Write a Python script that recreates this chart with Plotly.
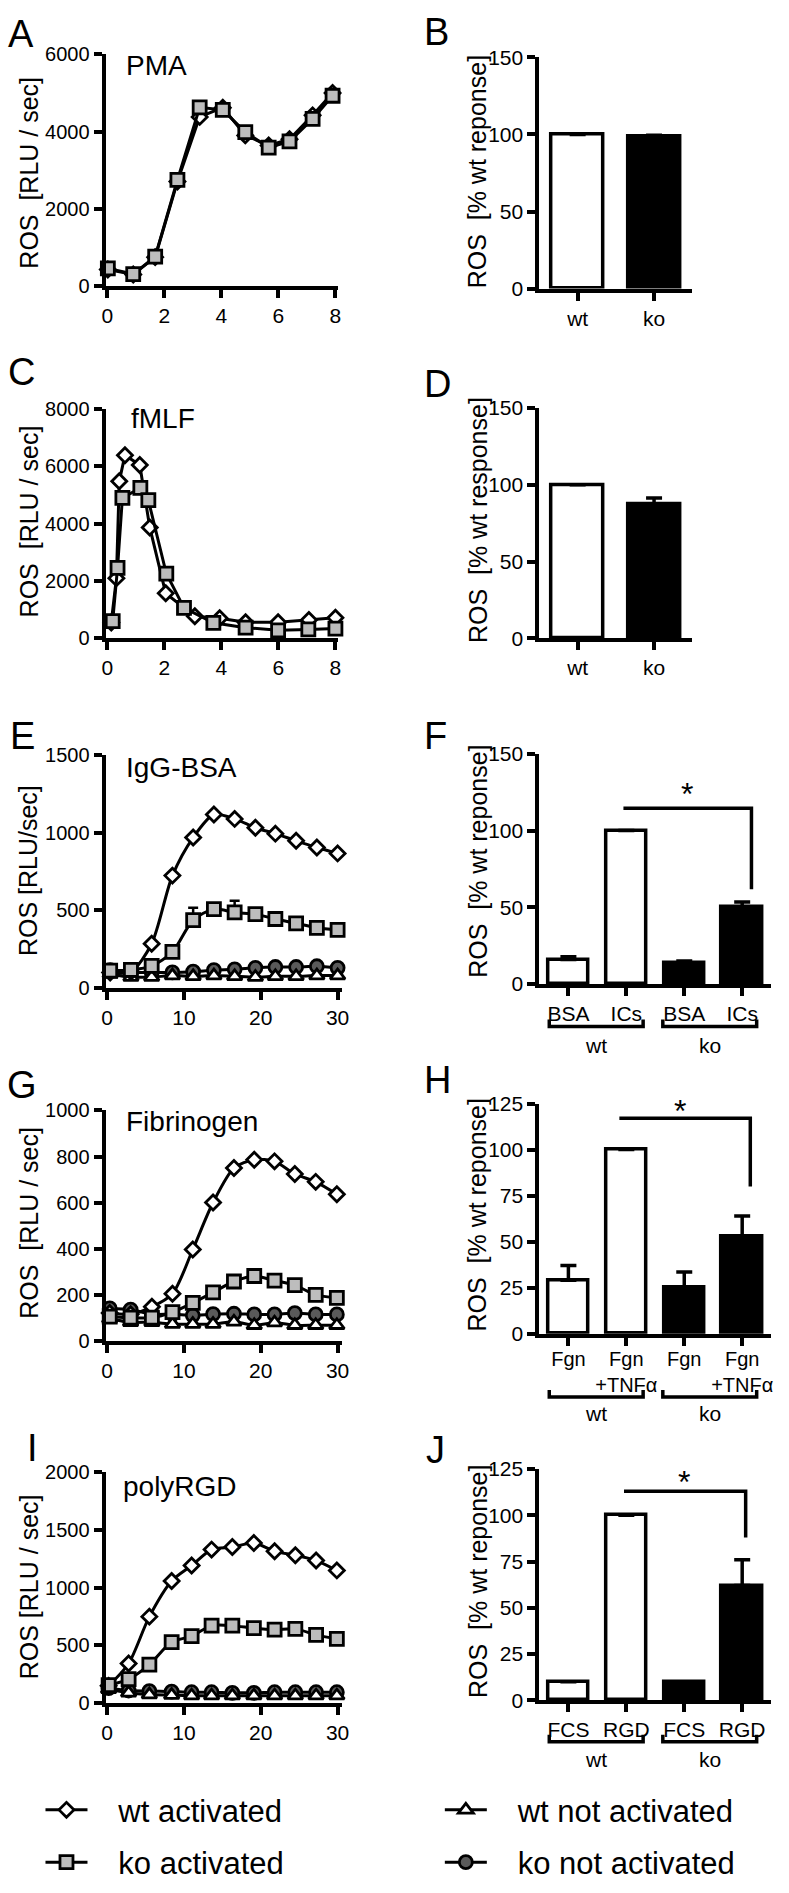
import plotly.graph_objects as go

W, H = 789, 1893
def fx(p): return p / W
def fy(p): return 1 - p / H

# ---------------- data ----------------
# A: PMA (time in min)
pma_time = [0.02, 0.91, 1.68, 2.46, 3.24, 4.05, 4.84, 5.66, 6.39, 7.2, 7.9]
pma_wt = [420, 290, 740, 2700, 4380, 4620, 3900, 3640, 3800, 4420, 5000]
pma_ko = [446, 300, 754, 2743, 4629, 4560, 3986, 3583, 3746, 4329, 4929]

# C: fMLF
fmlf_time_wt = [0.14, 0.32, 0.42, 0.62, 1.14, 1.49, 2.05, 3.07, 3.94, 4.85, 5.99, 7.07, 8.0]
fmlf_wt = [550, 2100, 5480, 6390, 6050, 3870, 1570, 770, 700, 560, 560, 640, 720]
fmlf_time_ko = [0.19, 0.36, 0.53, 1.16, 1.44, 2.07, 2.69, 3.72, 4.85, 5.99, 7.05, 8.0]
fmlf_ko = [600, 2460, 4900, 5250, 4820, 2260, 1060, 540, 370, 280, 310, 340]

# E: IgG-BSA
igg_time = [0.4, 3.1, 5.8, 8.5, 11.2, 13.9, 16.6, 19.3, 21.9, 24.6, 27.3, 30.0]
igg_wt_act = [100, 105, 285, 723, 968, 1116, 1088, 1031, 993, 947, 904, 866]
igg_ko_act = [112, 116, 142, 232, 437, 507, 486, 475, 444, 416, 387, 374]
igg_ko_act_err = [0, 0, 0, 0, 80, 0, 75, 0, 0, 0, 0, 0]
igg_wt_not = [90, 70, 70, 80, 75, 80, 75, 70, 75, 75, 80, 80]
igg_ko_not = [115, 100, 100, 100, 105, 115, 120, 130, 135, 135, 140, 130]

# G: Fibrinogen
fgn_time = [0.34, 3.06, 5.83, 8.51, 11.15, 13.79, 16.51, 19.15, 21.79, 24.43, 27.15, 29.9]
fgn_wt_act = [120, 115, 147, 204, 396, 600, 750, 786, 779, 724, 690, 636]
fgn_ko_act = [104, 100, 100, 124, 164, 210, 257, 281, 261, 241, 199, 186]
fgn_wt_not = [95, 80, 80, 72, 72, 72, 82, 67, 78, 67, 67, 67]
fgn_ko_not = [140, 135, 115, 115, 110, 115, 117, 114, 114, 120, 114, 114]

# I: polyRGD
rgd_time = [0.2, 2.8, 5.5, 8.4, 11.0, 13.6, 16.3, 19.1, 21.8, 24.5, 27.2, 29.9]
rgd_wt_act = [150, 343, 749, 1057, 1191, 1329, 1351, 1386, 1314, 1280, 1234, 1149]
rgd_ko_act = [157, 209, 334, 529, 580, 671, 671, 649, 637, 643, 591, 557]
rgd_wt_not = [120, 90, 75, 70, 65, 65, 65, 65, 65, 65, 65, 65]
rgd_ko_not = [130, 110, 105, 100, 95, 95, 90, 90, 95, 95, 95, 95]

# Bar panels
b_cats = ["wt", "ko"]
b_vals = [100, 98.5]
b_err = [0, 1.0]

d_cats = ["wt", "ko"]
d_vals = [100, 87.5]
d_err = [0, 4.0]

f_cats = ["BSA", "ICs", "BSA", "ICs"]
f_vals = [16, 100, 13.5, 50]
f_err = [1.8, 0, 1.5, 3.5]

h_cats = ["Fgn", "Fgn<br>+TNFα", "Fgn", "Fgn<br>+TNFα"]
h_vals = [29, 100, 25, 53]
h_err = [8, 0, 8.5, 11]

j_cats = ["FCS", "RGD", "FCS", "RGD"]
j_vals = [10, 100, 10, 62]
j_err = [0, 0, 0, 14]

groups = ["wt", "ko"]
bar_colors = ["white", "white", "black", "black"]

# significance brackets: [x_start, x_end, y_line, y_drop, star_x, star_y]
f_sig = [0.95, 3.16, 114.5, 61.7, 2.05, 124]
h_sig = [0.88, 3.14, 117, 80, 1.92, 121]
j_sig = [0.96, 3.06, 113, 88, 1.99, 118]

# ---------------- styles ----------------
FONT = "Liberation Sans, Arial, Helvetica, sans-serif"
LW = 3
MLW = 2.8
st = {
    "wt_act": dict(symbol="diamond", size=11.5, color="white", line=dict(color="black", width=MLW)),
    "ko_act": dict(symbol="square", size=13, color="#bdbdbd", line=dict(color="black", width=MLW)),
    "wt_not": dict(symbol="triangle-up", size=13, color="white", line=dict(color="black", width=MLW)),
    "ko_not": dict(symbol="circle", size=13, color="#5a5a5a", line=dict(color="black", width=MLW)),
}
PAD = "\u00a0\u00a0\u00a0"
names = {"wt_act": PAD + "wt activated", "ko_act": PAD + "ko activated",
         "wt_not": PAD + "wt not activated", "ko_not": PAD + "ko not activated"}
legend_of = {"wt_act": "legend", "ko_act": "legend", "wt_not": "legend2", "ko_not": "legend2"}
rank_of = {"wt_act": 1, "ko_act": 2, "wt_not": 1, "ko_not": 2}

fig = go.Figure()
layout = {}
annotations = []
shapes = []

axis_style = dict(showline=True, linecolor="black", linewidth=4, ticks="outside",
                  ticklen=8, tickwidth=4, tickcolor="black", showgrid=False,
                  zeroline=False, fixedrange=True)

def add_axes(i, xdom, ydom, xrange, yrange, ydtick, xdtick=None, tickvals=None,
             ticktext=None, xfont=21, yfont=20, xstand=0):
    xs = "xaxis" if i == 1 else f"xaxis{i}"
    ys = "yaxis" if i == 1 else f"yaxis{i}"
    xa = dict(axis_style, domain=[fx(xdom[0]), fx(xdom[1])], range=xrange,
              anchor=("y" if i == 1 else f"y{i}"), ticklabelstandoff=xstand,
              tickfont=dict(size=xfont, color="black", family=FONT))
    if tickvals is not None:
        xa.update(tickmode="array", tickvals=tickvals, ticktext=ticktext)
    else:
        xa.update(tickmode="linear", tick0=0, dtick=xdtick)
    ya = dict(axis_style, domain=[fy(ydom[1]), fy(ydom[0])], range=yrange,
              anchor=("x" if i == 1 else f"x{i}"), tickmode="linear", tick0=0, dtick=ydtick,
              tickfont=dict(size=yfont, color="black", family=FONT))
    layout[xs] = xa
    layout[ys] = ya
    return ("x" if i == 1 else f"x{i}"), ("y" if i == 1 else f"y{i}")

def add_series(xr, yr, key, t, v, shape="linear", err=None, legend=False):
    tr = go.Scatter(x=t, y=v, mode="lines+markers", xaxis=xr, yaxis=yr,
                    line=dict(color="black", width=LW, shape=shape, smoothing=0.8),
                    marker=st[key], cliponaxis=False, name=names[key],
                    showlegend=legend, legend=legend_of[key], legendrank=rank_of[key],
                    legendgroup=key)
    if err is not None:
        tr.error_y = dict(type="data", symmetric=False, array=err, arrayminus=[0] * len(err),
                          color="black", thickness=2.5, width=5)
    fig.add_trace(tr)

def letter(text, x, y):
    annotations.append(dict(text=text, x=fx(x), y=fy(y), xref="paper", yref="paper",
                            showarrow=False, xanchor="center", yanchor="middle",
                            font=dict(size=38, family=FONT, color="black")))

def label(text, x, y, size=28, anchor="left"):
    annotations.append(dict(text=text, x=fx(x), y=fy(y), xref="paper", yref="paper",
                            showarrow=False, xanchor=anchor, yanchor="middle",
                            font=dict(size=size, family=FONT, color="black")))

def ytitle(text, x, y, size=25):
    annotations.append(dict(text=text, x=fx(x), y=fy(y), xref="paper", yref="paper",
                            showarrow=False, textangle=-90, xanchor="center", yanchor="middle",
                            font=dict(size=size, family=FONT, color="black")))

# ---------------- line panels ----------------
LX = [103, 339]
LX30 = [103, 343]

# A
xr, yr = add_axes(1, LX, [43, 277], [-0.06, 8.1], [0, 6000], 2000, xdtick=2)
add_series(xr, yr, "wt_act", pma_time, pma_wt)
add_series(xr, yr, "ko_act", pma_time, pma_ko)
letter("A", 17, 22); label("PMA", 122, 54); ytitle("ROS\u00a0 [RLU / sec]", 25, 163)

# C
xr, yr = add_axes(3, LX, [402, 634], [-0.06, 8.1], [0, 8000], 2000, xdtick=2)
add_series(xr, yr, "wt_act", fmlf_time_wt, fmlf_wt)
add_series(xr, yr, "ko_act", fmlf_time_ko, fmlf_ko)
letter("C", 18, 364); label("fMLF", 127, 412); ytitle("ROS\u00a0 [RLU / sec]", 25, 516)

# E
xr, yr = add_axes(5, LX30, [752, 988], [-0.2, 30.6], [0, 1500], 500, xdtick=10)
add_series(xr, yr, "ko_not", igg_time, igg_ko_not, "spline")
add_series(xr, yr, "wt_not", igg_time, igg_wt_not, "spline")
add_series(xr, yr, "wt_act", igg_time, igg_wt_act, "spline")
add_series(xr, yr, "ko_act", igg_time, igg_ko_act, "spline", err=igg_ko_act_err)
letter("E", 19, 733); label("IgG-BSA", 122, 765); ytitle("ROS [RLU/sec]", 25, 869)

# G
xr, yr = add_axes(7, LX30, [1112, 1345], [-0.2, 30.6], [0, 1000], 200, xdtick=10)
add_series(xr, yr, "ko_not", fgn_time, fgn_ko_not, "spline")
add_series(xr, yr, "wt_not", fgn_time, fgn_wt_not, "spline")
add_series(xr, yr, "wt_act", fgn_time, fgn_wt_act, "spline")
add_series(xr, yr, "ko_act", fgn_time, fgn_ko_act, "spline")
letter("G", 18, 1086); label("Fibrinogen", 122, 1123); ytitle("ROS\u00a0 [RLU / sec]", 25, 1226)

# I
xr, yr = add_axes(9, LX30, [1478, 1712], [-0.2, 30.6], [0, 2000], 500, xdtick=10)
add_series(xr, yr, "ko_not", rgd_time, rgd_ko_not, "spline", legend=True)
add_series(xr, yr, "wt_not", rgd_time, rgd_wt_not, "spline", legend=True)
add_series(xr, yr, "wt_act", rgd_time, rgd_wt_act, "spline", legend=True)
add_series(xr, yr, "ko_act", rgd_time, rgd_ko_act, "spline", legend=True)
letter("I", 29, 1454); label("polyRGD", 119, 1493); ytitle("ROS [RLU / sec]", 25, 1594)

# ---------------- bar panels ----------------
def add_bars(xr, yr, vals, err, colors, width):
    n = len(vals)
    fig.add_trace(go.Bar(x=list(range(n)), y=vals, width=width, xaxis=xr, yaxis=yr,
                         marker=dict(color=colors, line=dict(color="black", width=3.5)),
                         error_y=dict(type="data", symmetric=False, array=err,
                                      arrayminus=[0] * n, color="black", thickness=3.5, width=8),
                         showlegend=False, cliponaxis=False))

def add_sig(xr, yr, sig):
    x0, x1, yl, yd, sx, sy = sig
    shapes.append(dict(type="path", xref=xr, yref=yr,
                       path=f"M {x0},{yl} L {x1},{yl} L {x1},{yd}",
                       line=dict(color="black", width=3.5)))
    annotations.append(dict(text="*", x=sx, y=sy, xref=xr, yref=yr, showarrow=False,
                            xanchor="center", yanchor="middle",
                            font=dict(size=32, family=FONT, color="black")))

def add_groups(xr, y_line, y_lab):
    spans = [(-0.33, 1.29), (1.63, 3.25)]
    for (a, b), g in zip(spans, groups):
        shapes.append(dict(type="path", xref=xr, yref="paper",
                           path=f"M {a},{fy(y_line - 7)} L {a},{fy(y_line)} L {b},{fy(y_line)} L {b},{fy(y_line - 7)}",
                           line=dict(color="black", width=3.5)))
        annotations.append(dict(text=g, x=(a + b) / 2, y=fy(y_lab), xref=xr, yref="paper",
                                showarrow=False, xanchor="center", yanchor="middle",
                                font=dict(size=21, family=FONT, color="black")))

BX2 = [543, 698]
BX4 = [543, 778]

# B
xr, yr = add_axes(2, BX2, [46, 280], [-0.5, 1.5], [0, 150], 50, tickvals=[0, 1],
                  ticktext=b_cats, xfont=21, yfont=21)
add_bars(xr, yr, b_vals, b_err, ["white", "black"], 0.68)
letter("B", 439, 20); ytitle("ROS\u00a0 [% wt reponse]", 480, 162)

# D
xr, yr = add_axes(4, BX2, [401, 634], [-0.5, 1.5], [0, 150], 50, tickvals=[0, 1],
                  ticktext=d_cats, xfont=21, yfont=21)
add_bars(xr, yr, d_vals, d_err, ["white", "black"], 0.68)
letter("D", 440, 377); ytitle("ROS\u00a0 [% wt response]", 480, 514)

# F
xr, yr = add_axes(6, BX4, [751, 984], [-0.5, 3.5], [0, 150], 50, tickvals=[0, 1, 2, 3],
                  ticktext=f_cats, xfont=21, yfont=21)
add_bars(xr, yr, f_vals, f_err, bar_colors, 0.7)
add_sig(xr, yr, f_sig)
add_groups(xr, 1027, 1046)
letter("F", 438, 733); ytitle("ROS\u00a0 [% wt reponse]", 480, 860)

# H
xr, yr = add_axes(8, BX4, [1105, 1338], [-0.5, 3.5], [0, 125], 25, tickvals=[0, 1, 2, 3],
                  ticktext=h_cats, xfont=20, yfont=21, xstand=-4)
add_bars(xr, yr, h_vals, h_err, bar_colors, 0.7)
add_sig(xr, yr, h_sig)
add_groups(xr, 1402, 1419)
letter("H", 440, 1081); ytitle("ROS\u00a0 [% wt reponse]", 480, 1218)

# J
xr, yr = add_axes(10, BX4, [1475, 1709], [-0.5, 3.5], [0, 125], 25, tickvals=[0, 1, 2, 3],
                  ticktext=j_cats, xfont=21, yfont=21)
add_bars(xr, yr, j_vals, j_err, bar_colors, 0.7)
add_sig(xr, yr, j_sig)
add_groups(xr, 1751, 1769)
letter("J", 438, 1456); ytitle("ROS\u00a0 [% wt reponse]", 480, 1589)

legend_common = dict(orientation="v", xanchor="left", yanchor="top", bgcolor="rgba(0,0,0,0)",
                     font=dict(size=31, family=FONT, color="black"), itemwidth=42,
                     tracegroupgap=9, itemclick=False, itemdoubleclick=False)

fig.update_layout(
    width=W, height=H, margin=dict(l=0, r=0, t=0, b=0),
    plot_bgcolor="white", paper_bgcolor="white",
    font=dict(family=FONT, color="black"),
    bargap=0, showlegend=True,
    legend=dict(legend_common, x=fx(37), y=fy(1793)),
    legend2=dict(legend_common, x=fx(442), y=fy(1793)),
    annotations=annotations, shapes=shapes,
    **layout,
)

fig.write_html("out.html", config={"displayModeBar": False},
               post_script="document.body.style.margin='0px';document.body.style.padding='0px';")
